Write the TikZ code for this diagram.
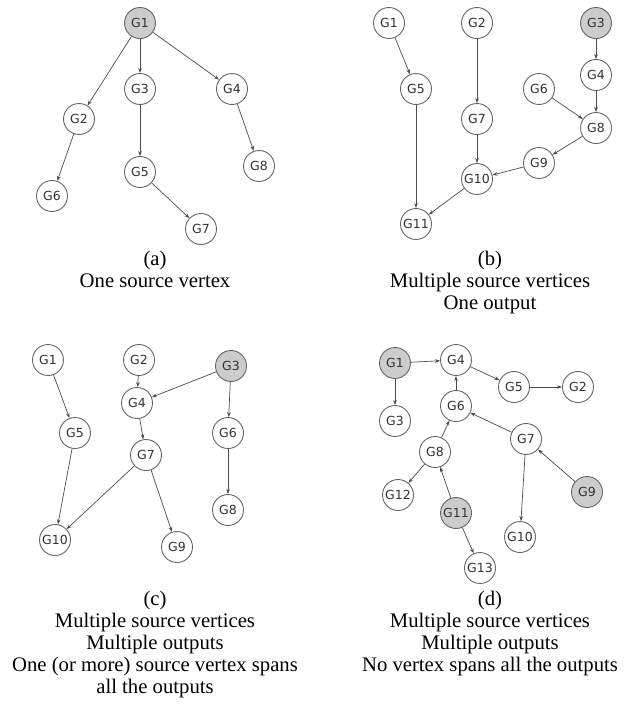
\documentclass[tikz,border=0pt]{standalone}
\usepackage{fontspec}
\setmainfont{Liberation Serif}
\newfontfamily\nodefont{DejaVu Sans}
\usetikzlibrary{arrows.meta}
\tikzset{
  vtx/.style={circle,draw=black!60,line width=0.9pt,fill=white,minimum size=31pt,inner sep=0pt,
    font=\nodefont\fontsize{12.5}{12.5}\selectfont,text=black!80},
  src/.style={vtx,fill=black!20},
  edge/.style={draw=black!70,line width=0.7pt,-{Stealth[length=5pt,width=3.6pt]}},
  captext/.style={anchor=base,align=center,inner sep=0pt,font=\fontsize{20.7}{22}\selectfont}
}
\begin{document}
\begin{tikzpicture}[x=1pt,y=-1pt]
\useasboundingbox (0,0) rectangle (625,704);
% (a)
\node[src] (a1) at (140,23) {G1};
\node[vtx] (a3) at (140,89) {G3};
\node[vtx] (a4) at (232,89) {G4};
\node[vtx] (a2) at (79,119) {G2};
\node[vtx] (a5) at (140,172) {G5};
\node[vtx] (a8) at (259,166) {G8};
\node[vtx] (a6) at (52,196) {G6};
\node[vtx] (a7) at (201,229) {G7};
\draw[edge] (a1) -- (a2);
\draw[edge] (a1) -- (a3);
\draw[edge] (a1) -- (a4);
\draw[edge] (a2) -- (a6);
\draw[edge] (a3) -- (a5);
\draw[edge] (a5) -- (a7);
\draw[edge] (a4) -- (a8);
\node[captext] (capa) at (155,287) {(a)\\One source vertex};
% (b)
\node[vtx] (b1) at (389,23) {G1};
\node[vtx] (b2) at (477,23) {G2};
\node[src] (b3) at (596,23) {G3};
\node[vtx] (b4) at (596,75) {G4};
\node[vtx] (b5) at (416,89) {G5};
\node[vtx] (b6) at (539,89) {G6};
\node[vtx] (b7) at (477,119) {G7};
\node[vtx] (b8) at (596,128) {G8};
\node[vtx] (b9) at (539,163) {G9};
\node[vtx] (b10) at (477,179) {G10};
\node[vtx] (b11) at (416,224) {G11};
\draw[edge] (b1) -- (b5);
\draw[edge] (b2) -- (b7);
\draw[edge] (b3) -- (b4);
\draw[edge] (b4) -- (b8);
\draw[edge] (b6) -- (b8);
\draw[edge] (b8) -- (b9);
\draw[edge] (b9) -- (b10);
\draw[edge] (b7) -- (b10);
\draw[edge] (b5) -- (b11);
\draw[edge] (b10) -- (b11);
\node[captext] (capb) at (490,309) {(b)\\Multiple source vertices\\One output};
% (c)
\node[vtx] (c1) at (48,360) {G1};
\node[vtx] (c2) at (139,360) {G2};
\node[src] (c3) at (231,366) {G3};
\node[vtx] (c4) at (137,403) {G4};
\node[vtx] (c5) at (75,433) {G5};
\node[vtx] (c6) at (228,433) {G6};
\node[vtx] (c7) at (146,455) {G7};
\node[vtx] (c8) at (228,510) {G8};
\node[vtx] (c10) at (55,540) {G10};
\node[vtx] (c9) at (177,547) {G9};
\draw[edge] (c1) -- (c5);
\draw[edge] (c2) -- (c4);
\draw[edge] (c3) -- (c4);
\draw[edge] (c3) -- (c6);
\draw[edge] (c4) -- (c7);
\draw[edge] (c5) -- (c10);
\draw[edge] (c7) -- (c10);
\draw[edge] (c7) -- (c9);
\draw[edge] (c6) -- (c8);
\node[captext] (capc) at (155,693) {(c)\\Multiple source vertices\\Multiple outputs\\One (or more) source vertex spans\\all the outputs};
% (d)
\node[src] (d1) at (395,363) {G1};
\node[vtx] (d4) at (456,360) {G4};
\node[vtx] (d5) at (514,387) {G5};
\node[vtx] (d2) at (578,387) {G2};
\node[vtx] (d3) at (395,421) {G3};
\node[vtx] (d6) at (456,406) {G6};
\node[vtx] (d7) at (526,439) {G7};
\node[vtx] (d8) at (435,452) {G8};
\node[vtx] (d12) at (398,495) {G12};
\node[src] (d11) at (456,513) {G11};
\node[src] (d9) at (587,492) {G9};
\node[vtx] (d10) at (520,537) {G10};
\node[vtx] (d13) at (480,568) {G13};
\draw[edge] (d1) -- (d4);
\draw[edge] (d1) -- (d3);
\draw[edge] (d4) -- (d5);
\draw[edge] (d5) -- (d2);
\draw[edge] (d6) -- (d4);
\draw[edge] (d7) -- (d6);
\draw[edge] (d8) -- (d6);
\draw[edge] (d8) -- (d12);
\draw[edge] (d11) -- (d8);
\draw[edge] (d11) -- (d13);
\draw[edge] (d7) -- (d10);
\draw[edge] (d9) -- (d7);
\node[captext] (capd) at (490,671) {(d)\\Multiple source vertices\\Multiple outputs\\No vertex spans all the outputs};
\end{tikzpicture}
\end{document}
